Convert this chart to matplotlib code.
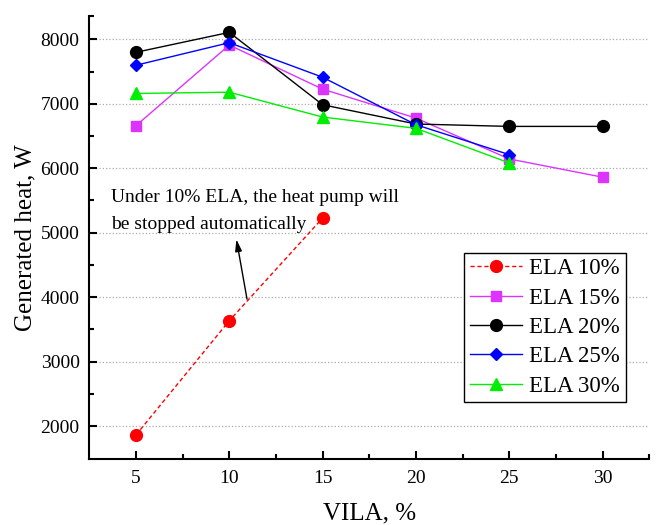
import matplotlib
matplotlib.use("Agg")
import matplotlib.pyplot as plt
from matplotlib.ticker import FixedLocator

plt.rcParams['font.family'] = ['Liberation Serif', 'DejaVu Serif']

# values
vila = [5, 10, 15, 20, 25, 30]
ela10 = [1860, 3634, 5227]
ela15 = [6660, 7912, 7227, 6778, 6144, 5861]
ela20 = [7799, 8108, 6985, 6686, 6649, 6649]
ela25 = [7598, 7948, 7412, 6675, 6211]
ela30 = [7160, 7180, 6794, 6619, 6082]

labels = ['ELA 10%', 'ELA 15%', 'ELA 20%', 'ELA 25%', 'ELA 30%']
note = "Under 10% ELA, the heat pump will\nbe stopped automatically"

fig = plt.figure(figsize=(6.57, 5.25), dpi=100)
ax = fig.add_axes([0.1359, 0.1257, 0.8524, 0.8438])

ax.plot(vila[:3], ela10, color='#ff0000', ls=(0, (3, 2)), lw=1.0,
        marker='o', ms=8.5, label=labels[0])
ax.plot(vila, ela15, color='#dd33ff', lw=1.0, marker='s', ms=7.5, label=labels[1])
ax.plot(vila, ela20, color='black', lw=1.0, marker='o', ms=8.5, label=labels[2])
ax.plot(vila[:5], ela25, color='#0000ff', lw=1.0, marker='D', ms=6, label=labels[3])
ax.plot(vila[:5], ela30, color='#00ee00', lw=1.0, marker='^', ms=8.5, label=labels[4])

ax.set_xlim(2.5, 32.5)
ax.set_ylim(1488, 8362)
ax.set_xticks(vila)
ax.set_yticks([2000, 3000, 4000, 5000, 6000, 7000, 8000])
ax.xaxis.set_minor_locator(FixedLocator([7.5, 12.5, 17.5, 22.5, 27.5, 32.5]))
ax.yaxis.set_minor_locator(FixedLocator([2500, 3500, 4500, 5500, 6500, 7500, 8362]))

ax.grid(axis='y', which='major', color='#aaaaaa', ls=':', lw=0.9)
ax.set_axisbelow(True)

for s in ['top', 'right']:
    ax.spines[s].set_visible(False)
for s in ['left', 'bottom']:
    ax.spines[s].set_linewidth(1.5)

ax.tick_params(which='major', direction='in', length=6, width=1.5, labelsize=14)
ax.tick_params(which='minor', direction='in', length=3.5, width=1.5)
ax.tick_params(axis='x', which='major', pad=8)
ax.tick_params(axis='y', which='major', pad=7)

ax.set_xlabel('VILA, %', fontsize=18, labelpad=11)
ax.set_ylabel('Generated heat, W', fontsize=18, labelpad=3)

ax.text(3.66, 5338, note, fontsize=14, va='center', ha='left', linespacing=1.75)
ax.annotate('', xy=(10.38, 4897), xytext=(10.95, 3969),
            arrowprops=dict(arrowstyle='-|>,head_length=0.7,head_width=0.2',
                            color='black', lw=1.0, shrinkA=0, shrinkB=0))

leg = ax.legend(loc='upper left', bbox_to_anchor=(0.669, 0.4657), borderaxespad=0,
                fontsize=16.5, frameon=True, fancybox=False, edgecolor='black',
                framealpha=1, labelspacing=0.36, handlelength=2.3,
                handletextpad=0.3, borderpad=0.25)
leg.get_frame().set_linewidth(1.0)

fig.savefig('out.png', dpi=100)
